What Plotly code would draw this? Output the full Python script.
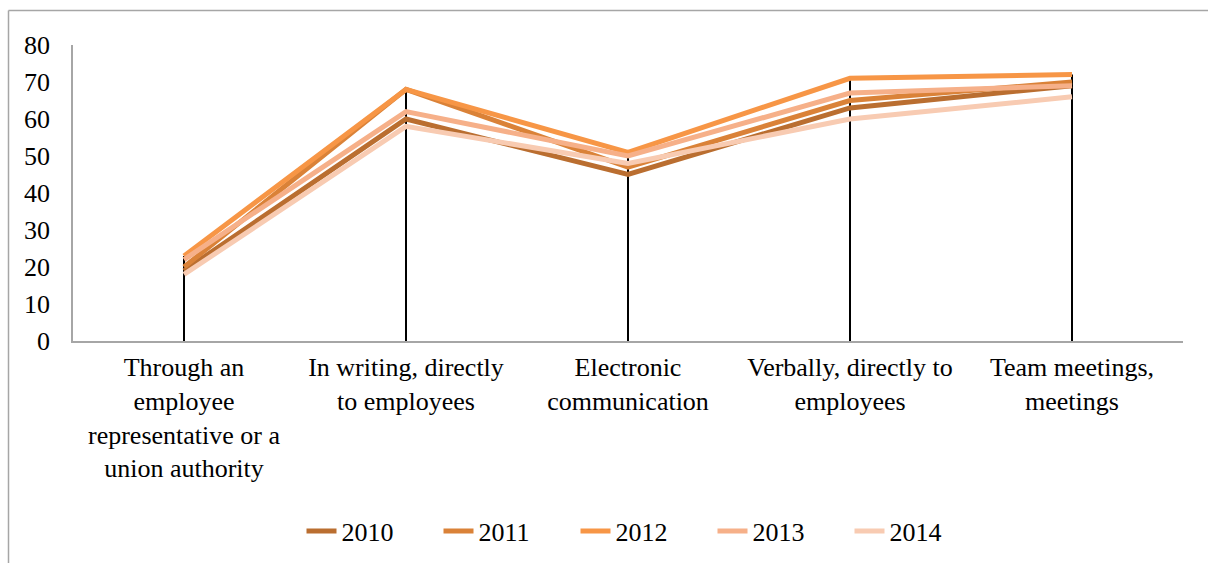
import plotly.graph_objects as go

categories = [
    "Through an<br>employee<br>representative or a<br>union authority",
    "In writing, directly<br>to employees",
    "Electronic<br>communication",
    "Verbally, directly to<br>employees",
    "Team meetings,<br>meetings",
]
years = ["2010", "2011", "2012", "2013", "2014"]
values_2010 = [19, 60, 45, 63, 69]
values_2011 = [20, 68, 47, 65, 70]
values_2012 = [23, 68, 51, 71, 72]
values_2013 = [22, 62, 50, 67, 69]
values_2014 = [18, 58, 48, 60, 66]
series = [values_2010, values_2011, values_2012, values_2013, values_2014]
colors = ["#BA6E30", "#DA8238", "#F79646", "#F6B089", "#F8CBB2"]

W, H = 1208, 563
L, R, T, B = 73, 25, 45, 222
FONT = "Liberation Serif"

fig = go.Figure()

# drop lines from the axis up to the highest value at each category
drop_x, drop_y = [], []
for i, c in enumerate(categories):
    top = max(s[i] for s in series)
    drop_x += [c, c, None]
    drop_y += [0, top, None]
fig.add_trace(go.Scatter(x=drop_x, y=drop_y, mode="lines",
                         line=dict(color="black", width=2),
                         showlegend=False, hoverinfo="skip"))

for name, vals, col in zip(years, series, colors):
    fig.add_trace(go.Scatter(x=categories, y=vals, mode="lines", name=name,
                             line=dict(color=col, width=5)))

pw, ph = W - L - R, H - T - B
def px_x(p):
    return (p - L) / pw
def px_y(p):
    return 1 - (p - T) / ph

# outer chart border (top and left edges visible)
fig.add_shape(type="line", xref="paper", yref="paper",
              x0=px_x(8.5), x1=px_x(1215), y0=px_y(10.5), y1=px_y(10.5),
              line=dict(color="#A6A6A6", width=1.5))
fig.add_shape(type="line", xref="paper", yref="paper",
              x0=px_x(8.5), x1=px_x(8.5), y0=px_y(10.5), y1=px_y(570),
              line=dict(color="#A6A6A6", width=1.5))

fig.update_layout(
    width=W, height=H,
    margin=dict(l=L, r=R, t=T, b=B, autoexpand=False),
    paper_bgcolor="white", plot_bgcolor="white",
    font=dict(family=FONT, size=26, color="black"),
    showlegend=True,
    legend=dict(orientation="h", x=px_x(644), xanchor="center",
                y=px_y(531), yanchor="middle",
                entrywidth=92, entrywidthmode="pixels",
                font=dict(family=FONT, size=26, color="black"),
                traceorder="normal"),
    xaxis=dict(type="category", range=[-0.5, 4.5], showgrid=False,
               showline=True, linecolor="#A6A6A6", linewidth=1.5,
               ticks="", ticklabelstandoff=2, automargin=False,
               tickfont=dict(family=FONT, size=26),
               fixedrange=True),
    yaxis=dict(range=[0, 80], dtick=10, showgrid=False, zeroline=False,
               showline=True, linecolor="#A6A6A6", linewidth=1.5,
               ticks="", ticklabelstandoff=16, automargin=False,
               tickfont=dict(family=FONT, size=26), fixedrange=True),
)

fig.write_html("out.html")
